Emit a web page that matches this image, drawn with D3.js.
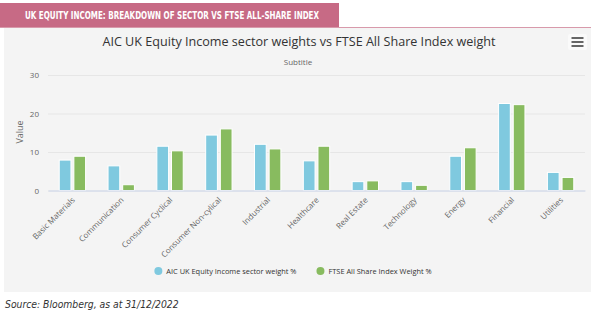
<!DOCTYPE html>
<html>
<head>
<meta charset="utf-8">
<script src="https://cdn.jsdelivr.net/npm/d3@7"></script>
<style>
  html, body { margin: 0; padding: 0; background: #fff; }
  svg { display: block; }
  .tick-label { font-family: "Open Sans", sans-serif; font-size: 8px; fill: #666; }
</style>
</head>
<body>
<svg></svg>
<script>
const width = 600;
const height = 321;

// Sector weights (%)
const categorias = [
  "Basic Materials", "Communication", "Consumer Cyclical", "Consumer Non-cylical",
  "Industrial", "Healthcare", "Real Estate", "Technology", "Energy", "Financial", "Utilities"
];
const series = ["AIC UK Equity Income sector weight %", "FTSE All Share Index Weight %"];
const aicWeights = [7.9, 6.4, 11.5, 14.4, 12.0, 7.7, 2.3, 2.3, 8.9, 22.6, 4.7];
const ftseWeights = [8.9, 1.5, 10.3, 16.0, 10.8, 11.5, 2.5, 1.35, 11.1, 22.3, 3.4];
const yTicks = [0, 10, 20, 30];
const colores = ["#7fc9df", "#88bb5f"];

const plot = { left: 48, right: 585, top: 75, bottom: 190.5 };

const svg = d3.select("svg").attr("width", width).attr("height", height);

// Panel gris del gráfico
svg.append("rect")
  .attr("x", 4).attr("y", 27)
  .attr("width", 587).attr("height", 265)
  .attr("fill", "#f4f4f4");

// Cabecera rosa
svg.append("rect")
  .attr("x", 0).attr("y", 3)
  .attr("width", 339).attr("height", 24)
  .attr("fill", "#c76a85");
svg.append("line")
  .attr("x1", 0).attr("x2", 591)
  .attr("y1", 27.5).attr("y2", 27.5)
  .attr("stroke", "#d89aab").attr("stroke-width", 1);
svg.append("text")
  .attr("x", 25).attr("y", 19)
  .attr("font-family", "'Liberation Sans Narrow', 'DejaVu Sans Condensed', sans-serif")
  .attr("font-weight", "bold")
  .attr("font-size", 10)
  .attr("fill", "#fff")
  .attr("textLength", 294)
  .attr("lengthAdjust", "spacingAndGlyphs")
  .text("UK EQUITY INCOME: BREAKDOWN OF SECTOR VS FTSE ALL-SHARE INDEX");

// Título y subtítulo
svg.append("text")
  .attr("x", 299).attr("y", 46)
  .attr("text-anchor", "middle")
  .attr("font-family", "'Open Sans', sans-serif")
  .attr("font-size", 12.6)
  .attr("fill", "#333")
  .text("AIC UK Equity Income sector weights vs FTSE All Share Index weight");
svg.append("text")
  .attr("x", 298).attr("y", 65)
  .attr("text-anchor", "middle")
  .attr("font-family", "'Open Sans', sans-serif")
  .attr("font-size", 8)
  .attr("fill", "#666")
  .text("Subtitle");

// Botón de menú
const menu = svg.append("g").attr("transform", "translate(568,34)");
menu.append("rect").attr("width", 19).attr("height", 16).attr("rx", 2).attr("fill", "#fafafa");
[4, 8, 12].forEach(dy => {
  menu.append("line")
    .attr("x1", 3.5).attr("x2", 15.5)
    .attr("y1", dy).attr("y2", dy)
    .attr("stroke", "#666").attr("stroke-width", 2);
});

// Escalas
const x = d3.scaleBand()
  .domain(categorias)
  .range([plot.left, plot.right])
  .padding(0);

const xSub = d3.scaleBand()
  .domain(series)
  .range([x.bandwidth() * 0.2, x.bandwidth() * 0.8])
  .paddingInner(0.2)
  .paddingOuter(0.1);

const y = d3.scaleLinear()
  .domain([0, 30])
  .range([plot.bottom, plot.top]);

// Rejilla y etiquetas del eje Y
const yAxis = svg.append("g")
  .attr("transform", `translate(${plot.left},0)`)
  .call(d3.axisLeft(y).tickValues(yTicks).tickSize(-(plot.right - plot.left)).tickPadding(9));
yAxis.select(".domain").remove();
yAxis.selectAll(".tick line").attr("stroke", "#e6e6e6");
yAxis.selectAll(".tick text").attr("class", "tick-label").attr("dy", "0.32em");

svg.append("text")
  .attr("transform", "rotate(-90)")
  .attr("x", -132).attr("y", 23)
  .attr("text-anchor", "middle")
  .attr("font-family", "'Open Sans', sans-serif")
  .attr("font-size", 9)
  .attr("fill", "#666")
  .text("Value");

// Barras
const datos = categorias.map((c, i) => ({ cat: c, valores: [aicWeights[i], ftseWeights[i]] }));

const grupos = svg.append("g").selectAll("g")
  .data(datos)
  .join("g")
  .attr("transform", d => `translate(${x(d.cat)},0)`);

grupos.selectAll("rect")
  .data(d => d.valores.map((v, j) => ({ serie: series[j], v, j })))
  .join("rect")
  .attr("x", d => xSub(d.serie))
  .attr("width", xSub.bandwidth())
  .attr("y", d => y(d.v))
  .attr("height", d => y(0) - y(d.v))
  .attr("fill", d => colores[d.j])
  .attr("stroke", "#fff")
  .attr("stroke-width", 1);

// Eje X
const xAxis = svg.append("g")
  .attr("transform", `translate(0,${plot.bottom})`)
  .call(d3.axisBottom(x).tickSize(0).tickPadding(0));
xAxis.select(".domain").attr("stroke", "#ccd6eb");
xAxis.selectAll(".tick text")
  .attr("class", "tick-label")
  .attr("text-anchor", "end")
  .attr("dy", 0)
  .attr("transform", "translate(3,10) rotate(-45)");

// Leyenda
const legend = svg.append("g").attr("font-family", "'Open Sans', sans-serif").attr("font-size", 7.4).attr("fill", "#333");
let lx = 0;
const items = legend.selectAll("g").data(series).join("g");
items.append("circle").attr("r", 4).attr("cy", 0).attr("fill", (d, i) => colores[i]);
items.append("text").attr("x", 8).attr("dy", "0.35em").text(d => d);
items.each(function () {
  const w = this.getBBox().width;
  d3.select(this).attr("transform", `translate(${lx + 4},0)`);
  lx += w + 20;
});
const total = lx - 20;
legend.attr("transform", `translate(${293 - total / 2},271)`);

// Fuente
svg.append("text")
  .attr("x", 5).attr("y", 308)
  .attr("font-family", "'Liberation Sans Narrow', 'DejaVu Sans Condensed', sans-serif")
  .attr("font-style", "italic")
  .attr("font-size", 10.3)
  .attr("fill", "#333")
  .text("Source: Bloomberg, as at 31/12/2022");
</script>
</body>
</html>
